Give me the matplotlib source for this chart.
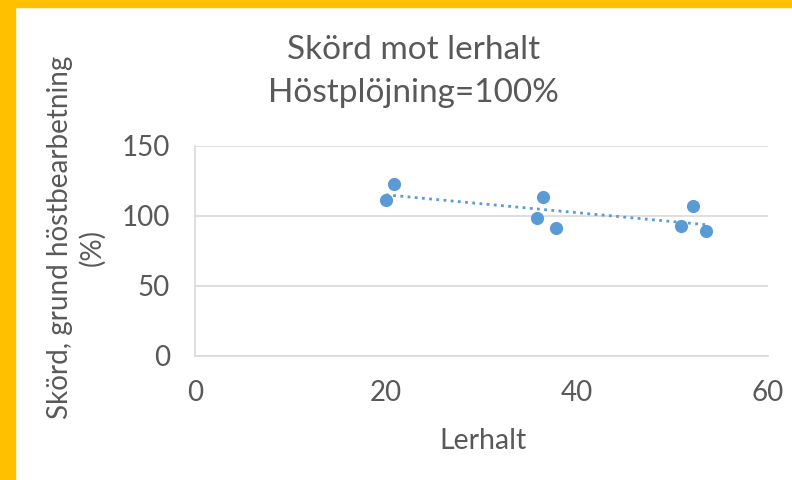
import matplotlib
matplotlib.use("Agg")
import matplotlib.pyplot as plt
import numpy as np
from matplotlib.patches import Rectangle

# clay content (%) and yield relative to autumn ploughing (%)
lerhalt = [20.0, 20.8, 35.8, 36.4, 37.8, 50.9, 52.1, 53.5]
skord = [111.4, 122.9, 98.6, 113.6, 91.4, 92.9, 107.1, 89.3]

xticks = [0, 20, 40, 60]
yticks = [0, 50, 100, 150]

blue = "#5B9BD5"
grey_txt = "#595959"
grid_c = "#D9D9D9"

plt.rcParams["font.family"] = ["Lato", "DejaVu Sans"]

fig = plt.figure(figsize=(7.92, 4.8), dpi=100)

# yellow frame on the left and top
fig.patches.append(Rectangle((0, 0), 15 / 792, 1, transform=fig.transFigure,
                             color="#FFC000", zorder=0))
fig.patches.append(Rectangle((0, 1 - 7 / 480), 1, 7 / 480, transform=fig.transFigure,
                             color="#FFC000", zorder=0))

ax = fig.add_axes([195 / 792, 1 - 356 / 480, 573 / 792, 210 / 480])

ax.scatter(lerhalt, skord, s=90, color=blue, zorder=3, linewidths=0)

# linear trendline
k, m = np.polyfit(lerhalt, skord, 1)
xt = np.array([min(lerhalt), max(lerhalt)])
ax.plot(xt, k * xt + m, color=blue, lw=2, linestyle=(0, (1, 1.6)), zorder=2)

ax.set_xlim(0, 60)
ax.set_ylim(0, 150)
ax.set_xticks(xticks)
ax.set_yticks(yticks)
ax.grid(axis="y", color=grid_c, lw=1.2)
ax.set_axisbelow(True)
for s in ["top", "right"]:
    ax.spines[s].set_visible(False)
for s in ["left", "bottom"]:
    ax.spines[s].set_color(grid_c)
    ax.spines[s].set_linewidth(1.2)
ax.tick_params(length=0, labelsize=20, labelcolor=grey_txt)
ax.tick_params(axis="x", pad=17)
ax.tick_params(axis="y", pad=18)

fig.text(0.522, 1 - 50 / 480, "Skörd mot lerhalt", ha="center", va="center",
         fontsize=24, color=grey_txt)
fig.text(0.522, 1 - 93 / 480, "Höstplöjning=100%", ha="center", va="center",
         fontsize=24, color=grey_txt)
fig.text(483 / 792, 1 - 441 / 480, "Lerhalt", ha="center", va="center",
         fontsize=20.5, color=grey_txt)
fig.text(60 / 792, 1 - 237 / 480, "Skörd, grund höstbearbetning", rotation=90,
         ha="center", va="center", fontsize=20, color=grey_txt)
fig.text(92 / 792, 1 - 247 / 480, "(%)", rotation=90,
         ha="center", va="center", fontsize=20, color=grey_txt)

fig.savefig("out.png", dpi=100)
